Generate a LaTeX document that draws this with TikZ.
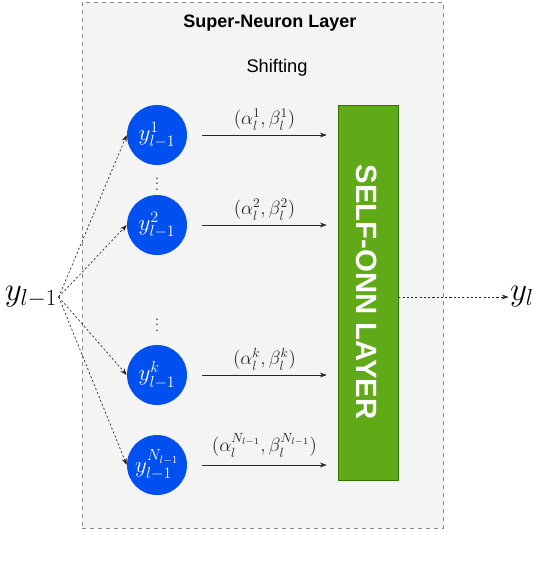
\documentclass[tikz,border=0pt]{standalone}
\usepackage{amsmath,amssymb}
\usepackage{fontspec}
\setsansfont{Liberation Sans}
\usepackage{xcolor}
\usepackage{tikz}
\usetikzlibrary{arrows.meta,positioning,calc}

\definecolor{neuronblue}{HTML}{0050EF}
\definecolor{onngreen}{HTML}{60A917}
\definecolor{onnborder}{HTML}{2D7600}
\definecolor{layergray}{HTML}{F4F4F4}
\definecolor{layerline}{HTML}{888888}

\begin{document}
\begin{tikzpicture}[x=0.75pt,y=-0.75pt,
  layer/.style={draw=layerline,dashed,fill=layergray,minimum width=361*0.75pt,
                minimum height=526*0.75pt,inner sep=0pt},
  neuron/.style={circle,fill=neuronblue,text=white,minimum size=60*0.75pt,
                 inner sep=0pt,font=\fontsize{17}{19}\selectfont},
  onn/.style={draw=onnborder,fill=onngreen,minimum width=60*0.75pt,
              minimum height=375*0.75pt,inner sep=0pt},
  shiftlbl/.style={font=\fontsize{14.5}{17}\selectfont},
  vdot/.style={inner sep=0pt,font=\fontsize{11}{12}\selectfont},
  arr/.style={-{Stealth[length=1.8mm,width=1.3mm]},line width=0.5pt,black!85},
  darr/.style={arr,dash pattern=on 1.6pt off 1.6pt}]
\useasboundingbox (0,0) rectangle (560,562);
\node[layer] (layer) at (262.5,265) {};
\node[font=\sffamily\bfseries\fontsize{13.5}{15}\selectfont] (title) at (270,23) {Super-Neuron Layer};
\node[font=\sffamily\fontsize{13.7}{15}\selectfont] (shifting) at (277,68) {Shifting};
\node[neuron] (n1) at (157,135) {$y_{l-1}^{1}$};
\node[neuron] (n2) at (157,225) {$y_{l-1}^{2}$};
\node[neuron] (nk) at (157,375) {$y_{l-1}^{k}$};
\node[neuron] (nN) at (157,465) {$y_{l-1}^{N_{l-1}}$};
\node[vdot] (dots1) at (157,180) {$\vdots$};
\node[vdot] (dots2) at (157,321) {$\vdots$};
\node[onn] (selfonn) at (368,292.5) {};
\node[rotate=-90,text=white,font=\sffamily\bfseries\fontsize{22}{24}\selectfont]
  (onntext) at (367,292) {SELF-ONN LAYER};
\node[font=\fontsize{26}{28}\selectfont,inner sep=1pt] (yin) at (31,297) {$y_{l-1}$};
\node[font=\fontsize{26}{28}\selectfont,inner sep=1pt] (yout) at (522,297) {$y_l$};
% inputs to the neurons
\draw[darr] (yin.east) -- (n1.west);
\draw[darr] (yin.east) -- (n2.west);
\draw[darr] (yin.east) -- (nk.west);
\draw[darr] (yin.east) -- (nN.west);
% shifted inputs into the layer
\draw[arr] ([xshift=15*0.75pt]n1.east) -- ([xshift=-11*0.75pt]selfonn.west |- n1)
  node[midway,above,shiftlbl] {$(\alpha_l^{1},\beta_l^{1})$};
\draw[arr] ([xshift=15*0.75pt]n2.east) -- ([xshift=-11*0.75pt]selfonn.west |- n2)
  node[midway,above,shiftlbl] {$(\alpha_l^{2},\beta_l^{2})$};
\draw[arr] ([xshift=15*0.75pt]nk.east) -- ([xshift=-11*0.75pt]selfonn.west |- nk)
  node[midway,above,shiftlbl] {$(\alpha_l^{k},\beta_l^{k})$};
\draw[arr] ([xshift=15*0.75pt]nN.east) -- ([xshift=-11*0.75pt]selfonn.west |- nN)
  node[midway,above=2pt,shiftlbl] {$(\alpha_l^{N_{l-1}},\beta_l^{N_{l-1}})$};
\draw[darr] (selfonn.east |- yout) -- (yout.west);
\end{tikzpicture}
\end{document}
